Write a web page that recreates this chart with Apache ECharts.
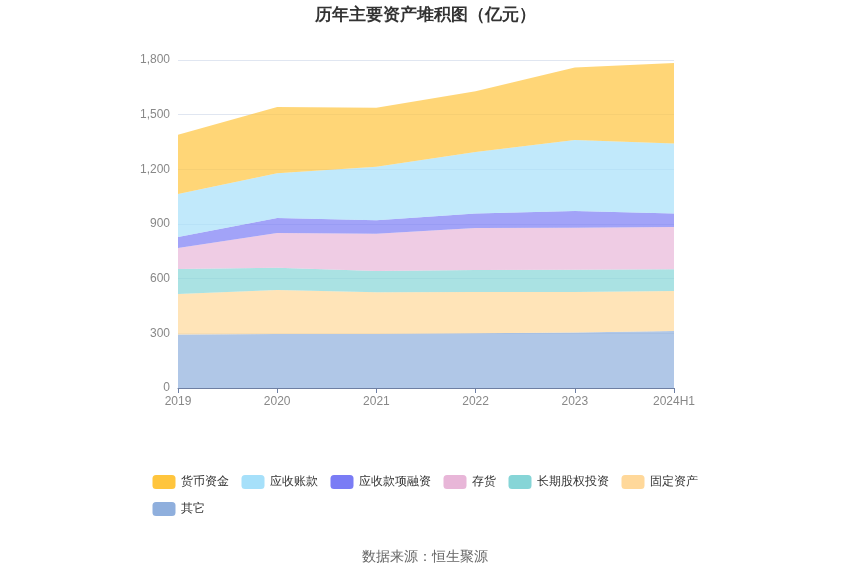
<!DOCTYPE html>
<html>
<head>
    <meta charset="utf-8">
    <title>历年主要资产堆积图</title>
    <script src="https://cdn.jsdelivr.net/npm/echarts@6/dist/echarts.min.js"></script>
    <style>
        html, body { margin: 0; padding: 0; background: #fff; }
        #main { width: 850px; height: 575px; }
    </style>
</head>
<body>
<div id="main"></div>
<script type="text/javascript">
    var years = ['2019', '2020', '2021', '2022', '2023', '2024H1'];

    // 亿元 (layer thickness, bottom to top)
    var qita     = [293, 296, 296, 300, 305, 313];
    var guding   = [223, 242, 229, 227, 222, 219];
    var changqi  = [137, 122, 117, 120, 122, 119];
    var cunhuo   = [115, 191, 205, 231, 231, 232];
    var rongzi   = [61, 82, 73, 79, 91, 74];
    var zhangkuan = [236, 245, 294, 338, 390, 385];
    var huobi    = [325, 364, 324, 333, 398, 441];

    var yTicks = [0, 300, 600, 900, 1200, 1500, 1800];

    var legendOrder = ['货币资金', '应收账款', '应收款项融资', '存货', '长期股权投资', '固定资产', '其它'];

    function layer(name, data, color) {
        return {
            name: name,
            type: 'line',
            stack: 'total',
            data: data,
            symbol: 'none',
            showSymbol: false,
            lineStyle: { width: 0 },
            itemStyle: { color: color },
            areaStyle: { color: color, opacity: 0.7 }
        };
    }

    var myChart = echarts.init(document.getElementById('main'));

    var option = {
        animation: false,
        title: [{
            text: '历年主要资产堆积图（亿元）',
            left: 'center',
            top: 2,
            textStyle: { fontSize: 17, fontWeight: 'bold', color: '#333' }
        }, {
            text: '数据来源：恒生聚源',
            left: 'center',
            top: 545,
            textStyle: { fontSize: 14, fontWeight: 'normal', color: '#666' }
        }],
        legend: {
            data: legendOrder,
            left: 'center',
            top: 470,
            width: 570,
            itemWidth: 23,
            itemHeight: 14,
            itemGap: 13,
            icon: 'roundRect',
            textStyle: { fontSize: 12, color: '#333' }
        },
        grid: { left: 178, right: 176, top: 60, bottom: 187 },
        xAxis: {
            type: 'category',
            data: years,
            boundaryGap: false,
            axisLine: { lineStyle: { color: '#6E7FA3' } },
            axisTick: { show: true, lineStyle: { color: '#6E7FA3' } },
            axisLabel: { color: '#888', fontSize: 12, margin: 8 }
        },
        yAxis: {
            type: 'value',
            min: yTicks[0],
            max: yTicks[yTicks.length - 1],
            interval: 300,
            axisLine: { show: false },
            axisTick: { show: false },
            axisLabel: { color: '#888', fontSize: 12, margin: 8 },
            splitLine: { lineStyle: { color: '#E0E6F1' } }
        },
        series: [
            layer('其它', qita, '#8FAFDD'),
            layer('固定资产', guding, '#FFD89A'),
            layer('长期股权投资', changqi, '#86D5D7'),
            layer('存货', cunhuo, '#E8B6D8'),
            layer('应收款项融资', rongzi, '#7A7CF5'),
            layer('应收账款', zhangkuan, '#A6E0FA'),
            layer('货币资金', huobi, '#FFC53D')
        ]
    };

    myChart.setOption(option);
</script>
</body>
</html>
